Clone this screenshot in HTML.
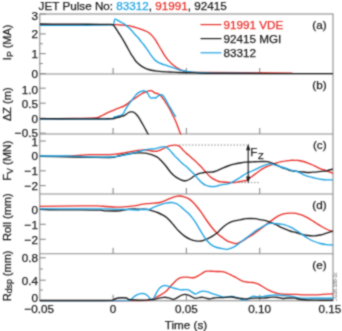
<!DOCTYPE html>
<html><head><meta charset="utf-8"><style>
html,body{margin:0;padding:0;background:#fff;width:342px;height:331px;overflow:hidden}
svg{display:block}
</style></head><body>
<svg width="342" height="331" viewBox="0 0 342 331">
<defs><filter id="soft" x="0" y="0" width="1" height="1" color-interpolation-filters="sRGB"><feConvolveMatrix order="3" kernelMatrix="1 2 1 2 8 2 1 2 1" divisor="20" edgeMode="duplicate"/></filter></defs>
<g filter="url(#soft)">
<rect width="342" height="331" fill="#fff"/>
<g fill="none" stroke="#8c8c8c" stroke-width="1.1">
<rect x="39.8" y="14" width="293.2" height="286.7"/>
<line x1="39.8" y1="74" x2="333.0" y2="74"/>
<line x1="39.8" y1="134" x2="333.0" y2="134"/>
<line x1="39.8" y1="194" x2="333.0" y2="194"/>
<line x1="39.8" y1="253.7" x2="333.0" y2="253.7"/>
</g>
<g stroke="#8c8c8c" stroke-width="1.1">
<line x1="113.10" y1="68" x2="113.10" y2="74"/>
<line x1="186.40" y1="68" x2="186.40" y2="74"/>
<line x1="259.70" y1="68" x2="259.70" y2="74"/>
<line x1="113.10" y1="128" x2="113.10" y2="134"/>
<line x1="186.40" y1="128" x2="186.40" y2="134"/>
<line x1="259.70" y1="128" x2="259.70" y2="134"/>
<line x1="113.10" y1="188" x2="113.10" y2="194"/>
<line x1="186.40" y1="188" x2="186.40" y2="194"/>
<line x1="259.70" y1="188" x2="259.70" y2="194"/>
<line x1="113.10" y1="247.7" x2="113.10" y2="253.7"/>
<line x1="186.40" y1="247.7" x2="186.40" y2="253.7"/>
<line x1="259.70" y1="247.7" x2="259.70" y2="253.7"/>
<line x1="113.10" y1="294.7" x2="113.10" y2="300.7"/>
<line x1="186.40" y1="294.7" x2="186.40" y2="300.7"/>
<line x1="259.70" y1="294.7" x2="259.70" y2="300.7"/>
</g>
<g stroke="#8c8c8c" stroke-width="1.1">
<line x1="39.8" y1="14" x2="45.8" y2="14"/>
<line x1="39.8" y1="33.9" x2="45.8" y2="33.9"/>
<line x1="39.8" y1="53.6" x2="45.8" y2="53.6"/>
<line x1="39.8" y1="73.6" x2="45.8" y2="73.6"/>
<line x1="39.8" y1="43.7" x2="42.8" y2="43.7"/>
<line x1="39.8" y1="63.5" x2="42.8" y2="63.5"/>
<line x1="39.8" y1="88.2" x2="45.8" y2="88.2"/>
<line x1="39.8" y1="103.2" x2="45.8" y2="103.2"/>
<line x1="39.8" y1="118.3" x2="45.8" y2="118.3"/>
<line x1="39.8" y1="133.2" x2="45.8" y2="133.2"/>
<line x1="39.8" y1="141" x2="45.8" y2="141"/>
<line x1="39.8" y1="156" x2="45.8" y2="156"/>
<line x1="39.8" y1="170.8" x2="45.8" y2="170.8"/>
<line x1="39.8" y1="185.6" x2="45.8" y2="185.6"/>
<line x1="39.8" y1="209.4" x2="45.8" y2="209.4"/>
<line x1="39.8" y1="224.3" x2="45.8" y2="224.3"/>
<line x1="39.8" y1="239.3" x2="45.8" y2="239.3"/>
<line x1="39.8" y1="257.8" x2="45.8" y2="257.8"/>
<line x1="39.8" y1="280.2" x2="45.8" y2="280.2"/>
<line x1="39.8" y1="300.5" x2="45.8" y2="300.5"/>
<line x1="39.8" y1="269" x2="42.8" y2="269"/>
<line x1="39.8" y1="290" x2="42.8" y2="290"/>
</g>
<defs>
<clipPath id="ca"><rect x="39.8" y="13.4" width="293.2" height="61.2"/></clipPath>
<clipPath id="cb"><rect x="39.8" y="73.4" width="293.2" height="61.2"/></clipPath>
<clipPath id="cc"><rect x="39.8" y="133.4" width="293.2" height="61.2"/></clipPath>
<clipPath id="cd"><rect x="39.8" y="193.4" width="293.2" height="61.2"/></clipPath>
<clipPath id="ce"><rect x="39.8" y="253.4" width="293.2" height="48.2"/></clipPath>
</defs>
<g clip-path="url(#ca)" fill="none" stroke-width="1.35" stroke-linejoin="round" stroke-linecap="round">
<path d="M40.00,24.60 C46.67,24.60 67.65,24.60 80.00,24.60 C92.35,24.60 107.67,24.57 114.10,24.60 C120.53,24.63 117.10,24.70 118.60,24.80 C120.10,24.90 121.58,25.07 123.10,25.20 C124.62,25.33 126.55,25.50 127.70,25.60 C128.85,25.70 128.87,25.55 130.00,25.80 C131.13,26.05 132.98,26.63 134.50,27.10 C136.02,27.57 137.58,28.08 139.10,28.60 C140.62,29.12 142.10,29.60 143.60,30.20 C145.10,30.80 146.73,31.33 148.10,32.20 C149.47,33.07 150.58,34.12 151.80,35.40 C153.02,36.68 154.35,38.38 155.40,39.90 C156.45,41.42 157.20,42.98 158.10,44.50 C159.00,46.02 159.75,47.22 160.80,49.00 C161.85,50.78 163.22,53.38 164.40,55.20 C165.58,57.02 166.73,58.53 167.90,59.90 C169.07,61.27 170.23,62.33 171.40,63.40 C172.57,64.47 173.73,65.42 174.90,66.30 C176.07,67.18 177.23,68.02 178.40,68.70 C179.57,69.38 180.73,69.97 181.90,70.40 C183.07,70.83 184.03,71.07 185.40,71.30 C186.77,71.53 187.67,71.62 190.10,71.80 C192.53,71.98 183.02,72.18 200.00,72.40 C216.98,72.62 276.67,72.98 292.00,73.10" stroke="#e8302a"/>
<path d="M40.00,25.40 C46.67,25.38 70.00,25.37 80.00,25.30 C90.00,25.23 95.00,25.07 100.00,25.00 C105.00,24.93 107.78,24.95 110.00,24.90 C112.22,24.85 112.53,25.55 113.30,24.70 C114.07,23.85 114.22,20.73 114.60,19.80 C114.98,18.87 115.08,19.00 115.60,19.10 C116.12,19.20 116.90,19.95 117.70,20.40 C118.50,20.85 119.50,21.33 120.40,21.80 C121.30,22.27 122.18,22.60 123.10,23.20 C124.02,23.80 124.98,24.68 125.90,25.40 C126.82,26.12 127.92,26.93 128.60,27.50 C129.28,28.07 129.32,28.08 130.00,28.80 C130.68,29.52 131.80,30.77 132.70,31.80 C133.60,32.83 134.48,34.02 135.40,35.00 C136.32,35.98 137.28,36.65 138.20,37.70 C139.12,38.75 140.00,40.17 140.90,41.30 C141.80,42.43 142.70,43.37 143.60,44.50 C144.50,45.63 145.25,46.58 146.30,48.10 C147.35,49.62 148.62,51.78 149.90,53.60 C151.18,55.42 152.75,57.62 154.00,59.00 C155.25,60.38 156.07,61.07 157.40,61.90 C158.73,62.73 160.45,63.40 162.00,64.00 C163.55,64.60 165.13,64.98 166.70,65.50 C168.27,66.02 169.83,66.57 171.40,67.10 C172.97,67.63 174.55,68.18 176.10,68.70 C177.65,69.22 179.35,69.82 180.70,70.20 C182.05,70.58 182.63,70.73 184.20,71.00 C185.77,71.27 187.47,71.53 190.10,71.80 C192.73,72.07 195.85,72.38 200.00,72.60 C204.15,72.82 205.33,72.98 215.00,73.10 C224.67,73.22 250.83,73.27 258.00,73.30" stroke="#1fa3e2"/>
<path d="M40.00,24.00 C43.33,24.02 53.33,24.07 60.00,24.10 C66.67,24.13 73.33,24.17 80.00,24.20 C86.67,24.23 95.00,24.27 100.00,24.30 C105.00,24.33 107.80,24.32 110.00,24.40 C112.20,24.48 112.37,24.33 113.20,24.80 C114.03,25.27 114.40,26.37 115.00,27.20 C115.60,28.03 116.05,28.63 116.80,29.80 C117.55,30.97 118.55,32.70 119.50,34.20 C120.45,35.70 121.52,37.20 122.50,38.80 C123.48,40.40 124.45,42.10 125.40,43.80 C126.35,45.50 127.28,47.33 128.20,49.00 C129.12,50.67 130.00,52.32 130.90,53.80 C131.80,55.28 132.70,56.57 133.60,57.90 C134.50,59.23 135.17,60.55 136.30,61.80 C137.43,63.05 139.03,64.40 140.40,65.40 C141.77,66.40 143.13,67.12 144.50,67.80 C145.87,68.48 147.23,69.05 148.60,69.50 C149.97,69.95 151.35,70.23 152.70,70.50 C154.05,70.77 155.15,70.92 156.70,71.10 C158.25,71.28 159.78,71.45 162.00,71.60 C164.22,71.75 167.00,71.85 170.00,72.00 C173.00,72.15 175.83,72.35 180.00,72.50 C184.17,72.65 188.33,72.75 195.00,72.90 C201.67,73.05 197.00,73.27 220.00,73.40 C243.00,73.53 314.17,73.65 333.00,73.70" stroke="#1e1e1e"/>
</g>
<g clip-path="url(#cb)" fill="none" stroke-width="1.35" stroke-linejoin="round" stroke-linecap="round">
<path d="M40.00,118.80 C45.83,118.73 65.83,118.57 75.00,118.40 C84.17,118.23 90.98,118.03 95.00,117.80 C99.02,117.57 97.73,117.47 99.10,117.00 C100.47,116.53 101.83,115.68 103.20,115.00 C104.57,114.32 105.93,113.53 107.30,112.90 C108.67,112.27 110.03,111.80 111.40,111.20 C112.77,110.60 114.13,109.87 115.50,109.30 C116.87,108.73 118.23,108.33 119.60,107.80 C120.97,107.27 122.35,106.80 123.70,106.10 C125.05,105.40 126.58,104.42 127.70,103.60 C128.82,102.78 129.48,101.90 130.40,101.20 C131.32,100.50 132.28,100.00 133.20,99.40 C134.12,98.80 135.00,98.20 135.90,97.60 C136.80,97.00 137.70,96.40 138.60,95.80 C139.50,95.20 140.40,94.53 141.30,94.00 C142.20,93.47 143.08,92.98 144.00,92.60 C144.92,92.22 146.03,91.98 146.80,91.70 C147.57,91.42 148.00,91.07 148.60,90.90 C149.20,90.73 149.72,90.63 150.40,90.70 C151.08,90.77 152.02,90.95 152.70,91.30 C153.38,91.65 153.73,92.43 154.50,92.80 C155.27,93.17 156.53,93.27 157.30,93.50 C158.07,93.73 158.50,93.82 159.10,94.20 C159.70,94.58 160.15,94.93 160.90,95.80 C161.65,96.67 162.70,98.12 163.60,99.40 C164.50,100.68 165.48,102.23 166.30,103.50 C167.12,104.77 167.85,105.92 168.50,107.00 C169.15,108.08 169.47,108.58 170.20,110.00 C170.93,111.42 172.00,113.67 172.90,115.50 C173.80,117.33 174.77,119.10 175.60,121.00 C176.43,122.90 177.15,124.95 177.90,126.90 C178.65,128.85 179.58,131.35 180.10,132.70 C180.62,134.05 180.85,134.62 181.00,135.00" stroke="#e8302a"/>
<path d="M40.00,119.00 C46.67,119.00 68.00,119.03 80.00,119.00 C92.00,118.97 106.43,119.05 112.00,118.80 C117.57,118.55 112.82,117.85 113.40,117.50 C113.98,117.15 114.65,116.95 115.50,116.70 C116.35,116.45 117.48,116.28 118.50,116.00 C119.52,115.72 120.73,115.52 121.60,115.00 C122.47,114.48 123.13,113.67 123.70,112.90 C124.27,112.13 124.33,111.58 125.00,110.40 C125.67,109.22 126.80,107.18 127.70,105.80 C128.60,104.42 129.48,103.32 130.40,102.10 C131.32,100.88 132.28,99.70 133.20,98.50 C134.12,97.30 135.00,95.88 135.90,94.90 C136.80,93.92 137.70,93.18 138.60,92.60 C139.50,92.02 140.40,91.70 141.30,91.40 C142.20,91.10 143.17,90.75 144.00,90.80 C144.83,90.85 145.62,91.17 146.30,91.70 C146.98,92.23 147.57,93.17 148.10,94.00 C148.63,94.83 149.05,96.03 149.50,96.70 C149.95,97.37 150.35,97.78 150.80,98.00 C151.25,98.22 151.73,98.07 152.20,98.00 C152.67,97.93 153.07,97.60 153.60,97.60 C154.13,97.60 154.78,98.15 155.40,98.00 C156.02,97.85 156.68,97.15 157.30,96.70 C157.92,96.25 158.50,95.63 159.10,95.30 C159.70,94.97 160.30,94.70 160.90,94.70 C161.50,94.70 162.10,94.82 162.70,95.30 C163.30,95.78 163.90,96.68 164.50,97.60 C165.10,98.52 165.67,99.65 166.30,100.80 C166.93,101.95 167.50,103.10 168.30,104.50 C169.10,105.90 170.18,107.65 171.10,109.20 C172.02,110.75 173.05,112.60 173.80,113.80 C174.55,115.00 175.30,115.97 175.60,116.40" stroke="#1fa3e2"/>
<path d="M40.00,118.70 C46.67,118.72 70.83,118.78 80.00,118.80 C89.17,118.82 90.80,118.80 95.00,118.80 C99.20,118.80 102.30,118.82 105.20,118.80 C108.10,118.78 110.68,118.83 112.40,118.70 C114.12,118.57 114.30,118.28 115.50,118.00 C116.70,117.72 118.42,117.33 119.60,117.00 C120.78,116.67 121.70,116.32 122.60,116.00 C123.50,115.68 124.30,115.48 125.00,115.10 C125.70,114.72 126.20,114.13 126.80,113.70 C127.40,113.27 128.00,112.80 128.60,112.50 C129.20,112.20 129.78,112.00 130.40,111.90 C131.02,111.80 131.68,111.80 132.30,111.90 C132.92,112.00 133.50,112.15 134.10,112.50 C134.70,112.85 135.30,113.42 135.90,114.00 C136.50,114.58 137.10,115.22 137.70,116.00 C138.30,116.78 138.90,117.72 139.50,118.70 C140.10,119.68 140.70,120.85 141.30,121.90 C141.90,122.95 142.50,123.95 143.10,125.00 C143.70,126.05 144.28,127.07 144.90,128.20 C145.52,129.33 146.20,130.70 146.80,131.80 C147.40,132.90 148.22,134.30 148.50,134.80" stroke="#1e1e1e"/>
</g>
<g clip-path="url(#cc)" fill="none" stroke-width="1.35" stroke-linejoin="round" stroke-linecap="round">
<path d="M40.00,156.40 C43.33,156.40 54.73,156.47 60.00,156.40 C65.27,156.33 66.60,156.28 71.60,156.00 C76.60,155.72 83.60,154.93 90.00,154.70 C96.40,154.47 105.50,154.72 110.00,154.60 C114.50,154.48 114.67,154.28 117.00,154.00 C119.33,153.72 121.67,153.28 124.00,152.90 C126.33,152.52 128.65,152.13 131.00,151.70 C133.35,151.27 135.75,150.60 138.10,150.30 C140.45,150.00 143.12,149.83 145.10,149.90 C147.08,149.97 148.50,150.45 150.00,150.70 C151.50,150.95 152.73,151.37 154.10,151.40 C155.47,151.43 156.85,151.27 158.20,150.90 C159.55,150.53 160.85,149.83 162.20,149.20 C163.55,148.57 164.93,147.68 166.30,147.10 C167.67,146.52 169.03,146.02 170.40,145.70 C171.77,145.38 173.37,145.25 174.50,145.20 C175.63,145.15 176.30,145.13 177.20,145.40 C178.10,145.67 178.93,146.05 179.90,146.80 C180.87,147.55 181.98,148.88 183.00,149.90 C184.02,150.92 184.82,151.82 186.00,152.90 C187.18,153.98 188.73,155.22 190.10,156.40 C191.47,157.58 192.85,158.73 194.20,160.00 C195.55,161.27 196.85,162.65 198.20,164.00 C199.55,165.35 200.93,166.62 202.30,168.10 C203.67,169.58 205.03,171.42 206.40,172.90 C207.77,174.38 209.13,175.87 210.50,177.00 C211.87,178.13 213.23,178.95 214.60,179.70 C215.97,180.45 217.42,181.12 218.70,181.50 C219.98,181.88 220.75,181.87 222.30,182.00 C223.85,182.13 226.03,182.20 228.00,182.30 C229.97,182.40 232.08,182.73 234.10,182.60 C236.12,182.47 238.08,181.85 240.10,181.50 C242.12,181.15 244.68,181.00 246.20,180.50 C247.72,180.00 248.20,179.20 249.20,178.50 C250.20,177.80 250.73,177.38 252.20,176.30 C253.67,175.22 256.25,173.27 258.00,172.00 C259.75,170.73 261.13,169.63 262.70,168.70 C264.27,167.77 265.85,167.08 267.40,166.40 C268.95,165.72 270.45,165.18 272.00,164.60 C273.55,164.02 275.13,163.38 276.70,162.90 C278.27,162.42 279.83,162.05 281.40,161.70 C282.97,161.35 284.55,161.03 286.10,160.80 C287.65,160.57 289.05,160.37 290.70,160.30 C292.35,160.23 294.67,160.37 296.00,160.40 C297.33,160.43 297.47,160.32 298.70,160.50 C299.93,160.68 301.85,161.07 303.40,161.50 C304.95,161.93 306.45,162.52 308.00,163.10 C309.55,163.68 311.13,164.30 312.70,165.00 C314.27,165.70 315.83,166.58 317.40,167.30 C318.97,168.02 320.55,168.72 322.10,169.30 C323.65,169.88 324.97,170.15 326.70,170.80 C328.43,171.45 331.53,172.80 332.50,173.20" stroke="#e8302a"/>
<path d="M40.00,156.30 C44.17,156.38 56.67,156.63 65.00,156.80 C73.33,156.97 82.50,157.18 90.00,157.30 C97.50,157.42 105.50,157.65 110.00,157.50 C114.50,157.35 114.67,156.88 117.00,156.40 C119.33,155.92 121.67,155.08 124.00,154.60 C126.33,154.12 128.65,153.78 131.00,153.50 C133.35,153.22 135.75,152.97 138.10,152.90 C140.45,152.83 143.12,152.88 145.10,153.10 C147.08,153.32 148.50,153.78 150.00,154.20 C151.50,154.62 152.73,155.02 154.10,155.60 C155.47,156.18 156.85,156.67 158.20,157.70 C159.55,158.73 160.85,160.33 162.20,161.80 C163.55,163.27 164.93,164.80 166.30,166.50 C167.67,168.20 169.03,170.42 170.40,172.00 C171.77,173.58 173.13,174.88 174.50,176.00 C175.87,177.12 177.23,177.95 178.60,178.70 C179.97,179.45 181.38,180.18 182.70,180.50 C184.02,180.82 185.27,180.85 186.50,180.60 C187.73,180.35 188.82,179.77 190.10,179.00 C191.38,178.23 192.85,176.87 194.20,176.00 C195.55,175.13 196.85,174.32 198.20,173.80 C199.55,173.28 200.93,173.17 202.30,172.90 C203.67,172.63 205.03,172.32 206.40,172.20 C207.77,172.08 209.13,172.32 210.50,172.20 C211.87,172.08 213.23,171.88 214.60,171.50 C215.97,171.12 217.38,170.45 218.70,169.90 C220.02,169.35 220.95,168.85 222.50,168.20 C224.05,167.55 226.07,166.67 228.00,166.00 C229.93,165.33 232.08,164.70 234.10,164.20 C236.12,163.70 238.08,163.33 240.10,163.00 C242.12,162.67 244.18,162.38 246.20,162.20 C248.22,162.02 250.20,162.00 252.20,161.90 C254.20,161.80 256.45,161.67 258.20,161.60 C259.95,161.53 261.17,161.48 262.70,161.50 C264.23,161.52 265.85,161.43 267.40,161.70 C268.95,161.97 270.45,162.52 272.00,163.10 C273.55,163.68 275.13,164.50 276.70,165.20 C278.27,165.90 279.83,166.68 281.40,167.30 C282.97,167.92 284.55,168.35 286.10,168.90 C287.65,169.45 289.30,170.23 290.70,170.60 C292.10,170.97 293.17,170.93 294.50,171.10 C295.83,171.27 297.22,171.45 298.70,171.60 C300.18,171.75 301.85,171.85 303.40,172.00 C304.95,172.15 306.45,172.47 308.00,172.50 C309.55,172.53 311.13,172.32 312.70,172.20 C314.27,172.08 315.83,171.95 317.40,171.80 C318.97,171.65 320.55,171.47 322.10,171.30 C323.65,171.13 324.97,171.15 326.70,170.80 C328.43,170.45 331.53,169.47 332.50,169.20" stroke="#1e1e1e"/>
<path d="M40.00,156.00 C43.67,156.00 56.67,155.98 62.00,156.00 C67.33,156.02 67.33,155.95 72.00,156.10 C76.67,156.25 83.67,156.75 90.00,156.90 C96.33,157.05 105.50,157.08 110.00,157.00 C114.50,156.92 114.67,156.70 117.00,156.40 C119.33,156.10 121.67,155.68 124.00,155.20 C126.33,154.72 128.65,154.08 131.00,153.50 C133.35,152.92 135.75,152.30 138.10,151.70 C140.45,151.10 143.12,150.33 145.10,149.90 C147.08,149.47 148.50,149.28 150.00,149.10 C151.50,148.92 152.73,149.00 154.10,148.80 C155.47,148.60 156.85,148.23 158.20,147.90 C159.55,147.57 161.07,146.98 162.20,146.80 C163.33,146.62 164.08,146.57 165.00,146.80 C165.92,147.03 166.80,147.52 167.70,148.20 C168.60,148.88 169.27,149.67 170.40,150.90 C171.53,152.13 173.13,154.13 174.50,155.60 C175.87,157.07 177.23,158.33 178.60,159.70 C179.97,161.07 181.40,162.65 182.70,163.80 C184.00,164.95 185.17,165.53 186.40,166.60 C187.63,167.67 188.80,168.93 190.10,170.20 C191.40,171.47 192.85,172.73 194.20,174.20 C195.55,175.67 196.85,177.52 198.20,179.00 C199.55,180.48 200.93,182.02 202.30,183.10 C203.67,184.18 205.03,184.93 206.40,185.50 C207.77,186.07 209.13,186.33 210.50,186.50 C211.87,186.67 213.23,186.67 214.60,186.50 C215.97,186.33 217.38,185.82 218.70,185.50 C220.02,185.18 220.95,184.88 222.50,184.60 C224.05,184.32 226.07,184.38 228.00,183.80 C229.93,183.22 232.08,182.15 234.10,181.10 C236.12,180.05 238.08,178.77 240.10,177.50 C242.12,176.23 244.18,174.58 246.20,173.50 C248.22,172.42 250.20,171.88 252.20,171.00 C254.20,170.12 256.45,169.05 258.20,168.20 C259.95,167.35 261.17,166.55 262.70,165.90 C264.23,165.25 266.03,164.65 267.40,164.30 C268.77,163.95 269.55,163.65 270.90,163.80 C272.25,163.95 273.75,164.67 275.50,165.20 C277.25,165.73 279.63,166.45 281.40,167.00 C283.17,167.55 284.55,167.98 286.10,168.50 C287.65,169.02 289.22,169.68 290.70,170.10 C292.18,170.52 293.67,170.65 295.00,171.00 C296.33,171.35 297.30,171.60 298.70,172.20 C300.10,172.80 301.85,173.92 303.40,174.60 C304.95,175.28 306.45,175.82 308.00,176.30 C309.55,176.78 311.13,177.10 312.70,177.50 C314.27,177.90 315.83,178.37 317.40,178.70 C318.97,179.03 320.55,179.32 322.10,179.50 C323.65,179.68 324.97,179.75 326.70,179.80 C328.43,179.85 331.53,179.80 332.50,179.80" stroke="#1fa3e2"/>
</g>
<g clip-path="url(#cd)" fill="none" stroke-width="1.35" stroke-linejoin="round" stroke-linecap="round">
<path d="M40.00,206.40 C46.67,206.32 70.50,205.98 80.00,205.90 C89.50,205.82 92.62,205.80 97.00,205.90 C101.38,206.00 103.22,206.30 106.30,206.50 C109.38,206.70 113.22,207.00 115.50,207.10 C117.78,207.20 117.68,207.23 120.00,207.10 C122.32,206.97 126.28,206.63 129.40,206.30 C132.52,205.97 136.93,205.38 138.70,205.10 C140.47,204.82 138.62,204.83 140.00,204.60 C141.38,204.37 144.67,203.95 147.00,203.70 C149.33,203.45 151.85,203.30 154.00,203.10 C156.15,202.90 157.95,202.95 159.90,202.50 C161.85,202.05 163.75,201.18 165.70,200.40 C167.65,199.62 169.65,198.50 171.60,197.80 C173.55,197.10 176.00,196.50 177.40,196.20 C178.80,195.90 179.00,195.92 180.00,196.00 C181.00,196.08 182.05,196.30 183.40,196.70 C184.75,197.10 186.55,197.53 188.10,198.40 C189.65,199.27 191.15,200.43 192.70,201.90 C194.25,203.37 195.97,205.45 197.40,207.20 C198.83,208.95 199.75,210.18 201.30,212.40 C202.85,214.62 204.90,217.93 206.70,220.50 C208.50,223.07 210.38,225.68 212.10,227.80 C213.82,229.92 215.30,231.58 217.00,233.20 C218.70,234.82 220.62,236.23 222.30,237.50 C223.98,238.77 225.50,239.95 227.10,240.80 C228.70,241.65 230.42,242.13 231.90,242.60 C233.38,243.07 234.52,243.72 236.00,243.60 C237.48,243.48 239.18,242.67 240.80,241.90 C242.42,241.13 244.08,239.98 245.70,239.00 C247.32,238.02 248.90,237.05 250.50,236.00 C252.10,234.95 253.68,233.82 255.30,232.70 C256.92,231.58 258.75,230.37 260.20,229.30 C261.65,228.23 262.87,227.23 264.00,226.30 C265.13,225.37 265.82,224.60 267.00,223.70 C268.18,222.80 269.67,221.92 271.10,220.90 C272.53,219.88 274.10,218.55 275.60,217.60 C277.10,216.65 278.58,215.85 280.10,215.20 C281.62,214.55 283.05,214.03 284.70,213.70 C286.35,213.37 288.12,213.27 290.00,213.20 C291.88,213.13 293.98,212.98 296.00,213.30 C298.02,213.62 300.07,214.30 302.10,215.10 C304.13,215.90 306.18,216.97 308.20,218.10 C310.22,219.23 312.18,220.63 314.20,221.90 C316.22,223.17 318.28,224.52 320.30,225.70 C322.32,226.88 324.27,228.02 326.30,229.00 C328.33,229.98 331.47,231.17 332.50,231.60" stroke="#e8302a"/>
<path d="M40.00,209.40 C43.33,209.48 53.33,209.82 60.00,209.90 C66.67,209.98 73.33,209.85 80.00,209.90 C86.67,209.95 95.67,210.03 100.00,210.20 C104.33,210.37 102.67,210.80 106.00,210.90 C109.33,211.00 116.10,211.08 120.00,210.80 C123.90,210.52 126.28,209.48 129.40,209.20 C132.52,208.92 136.93,209.08 138.70,209.10 C140.47,209.12 138.62,209.27 140.00,209.30 C141.38,209.33 145.05,209.07 147.00,209.30 C148.95,209.53 149.95,210.17 151.70,210.70 C153.45,211.23 155.55,211.72 157.50,212.50 C159.45,213.28 161.83,214.53 163.40,215.40 C164.97,216.27 165.73,216.73 166.90,217.70 C168.07,218.67 169.22,219.90 170.40,221.20 C171.58,222.50 172.57,223.82 174.00,225.50 C175.43,227.18 177.17,229.48 179.00,231.30 C180.83,233.12 183.10,235.07 185.00,236.40 C186.90,237.73 188.58,238.57 190.40,239.30 C192.22,240.03 194.08,240.52 195.90,240.80 C197.72,241.08 199.50,241.27 201.30,241.00 C203.10,240.73 204.90,239.97 206.70,239.20 C208.50,238.43 210.33,237.47 212.10,236.40 C213.87,235.33 215.90,233.95 217.30,232.80 C218.70,231.65 219.27,230.68 220.50,229.50 C221.73,228.32 223.20,226.83 224.70,225.70 C226.20,224.57 227.90,223.50 229.50,222.70 C231.10,221.90 232.42,221.40 234.30,220.90 C236.18,220.40 238.90,220.07 240.80,219.70 C242.70,219.33 244.08,218.90 245.70,218.70 C247.32,218.50 248.90,218.50 250.50,218.50 C252.10,218.50 253.68,218.52 255.30,218.70 C256.92,218.88 258.33,219.23 260.20,219.60 C262.07,219.97 264.68,220.38 266.50,220.90 C268.32,221.42 269.58,222.10 271.10,222.70 C272.62,223.30 274.10,223.82 275.60,224.50 C277.10,225.18 278.58,226.08 280.10,226.80 C281.62,227.52 283.05,228.10 284.70,228.80 C286.35,229.50 288.12,230.38 290.00,231.00 C291.88,231.62 293.98,231.93 296.00,232.50 C298.02,233.07 300.07,233.90 302.10,234.40 C304.13,234.90 306.18,235.27 308.20,235.50 C310.22,235.73 312.18,235.88 314.20,235.80 C316.22,235.72 318.28,235.43 320.30,235.00 C322.32,234.57 324.27,233.83 326.30,233.20 C328.33,232.57 331.47,231.53 332.50,231.20" stroke="#1e1e1e"/>
<path d="M40.00,208.80 C46.67,208.82 69.00,208.88 80.00,208.90 C91.00,208.92 98.50,208.80 106.00,208.90 C113.50,209.00 121.10,209.40 125.00,209.50 C128.90,209.60 127.12,209.42 129.40,209.50 C131.68,209.58 136.93,210.00 138.70,210.00 C140.47,210.00 139.00,209.58 140.00,209.50 C141.00,209.42 143.13,209.53 144.70,209.50 C146.27,209.47 147.85,209.68 149.40,209.30 C150.95,208.92 152.25,207.93 154.00,207.20 C155.75,206.47 157.95,205.58 159.90,204.90 C161.85,204.22 163.75,203.50 165.70,203.10 C167.65,202.70 169.83,202.40 171.60,202.50 C173.37,202.60 174.90,203.12 176.30,203.70 C177.70,204.28 178.82,205.12 180.00,206.00 C181.18,206.88 182.05,207.82 183.40,209.00 C184.75,210.18 186.55,211.55 188.10,213.10 C189.65,214.65 191.30,216.52 192.70,218.30 C194.10,220.08 195.07,221.50 196.50,223.80 C197.93,226.10 199.60,229.37 201.30,232.10 C203.00,234.83 204.90,237.98 206.70,240.20 C208.50,242.42 210.38,244.18 212.10,245.40 C213.82,246.62 215.30,246.95 217.00,247.50 C218.70,248.05 220.62,248.40 222.30,248.70 C223.98,249.00 225.50,249.45 227.10,249.30 C228.70,249.15 230.42,248.42 231.90,247.80 C233.38,247.18 234.52,246.57 236.00,245.60 C237.48,244.63 239.18,243.20 240.80,242.00 C242.42,240.80 244.08,239.60 245.70,238.40 C247.32,237.20 248.90,236.02 250.50,234.80 C252.10,233.58 253.68,232.22 255.30,231.10 C256.92,229.98 258.75,228.98 260.20,228.10 C261.65,227.22 262.87,226.43 264.00,225.80 C265.13,225.17 265.82,224.75 267.00,224.30 C268.18,223.85 269.67,223.22 271.10,223.10 C272.53,222.98 274.10,223.45 275.60,223.60 C277.10,223.75 278.58,223.80 280.10,224.00 C281.62,224.20 283.05,224.32 284.70,224.80 C286.35,225.28 288.12,226.00 290.00,226.90 C291.88,227.80 293.98,228.95 296.00,230.20 C298.02,231.45 300.07,233.02 302.10,234.40 C304.13,235.78 306.18,237.32 308.20,238.50 C310.22,239.68 312.18,240.67 314.20,241.50 C316.22,242.33 318.28,242.98 320.30,243.50 C322.32,244.02 324.27,244.35 326.30,244.60 C328.33,244.85 331.47,244.93 332.50,245.00" stroke="#1fa3e2"/>
</g>
<g clip-path="url(#ce)" fill="none" stroke-width="1.35" stroke-linejoin="round" stroke-linecap="round">
<path d="M40.00,300.90 C53.33,300.90 103.33,300.92 120.00,300.90 C136.67,300.88 135.83,300.85 140.00,300.80 C144.17,300.75 143.38,300.75 145.00,300.60 C146.62,300.45 148.33,300.22 149.70,299.90 C151.07,299.58 152.03,299.18 153.20,298.70 C154.37,298.22 155.53,297.58 156.70,297.00 C157.87,296.42 158.83,295.98 160.20,295.20 C161.57,294.42 163.53,293.37 164.90,292.30 C166.27,291.23 167.23,290.07 168.40,288.80 C169.57,287.53 170.73,285.97 171.90,284.70 C173.07,283.43 174.23,282.27 175.40,281.20 C176.57,280.13 177.73,278.95 178.90,278.30 C180.07,277.65 181.38,277.50 182.40,277.30 C183.42,277.10 184.18,277.13 185.00,277.10 C185.82,277.07 186.32,277.00 187.30,277.10 C188.28,277.20 189.70,277.63 190.90,277.70 C192.10,277.77 193.30,277.80 194.50,277.50 C195.70,277.20 196.88,276.57 198.10,275.90 C199.32,275.23 200.58,274.25 201.80,273.50 C203.02,272.75 204.20,271.80 205.40,271.40 C206.60,271.00 207.60,271.10 209.00,271.10 C210.40,271.10 212.30,271.33 213.80,271.40 C215.30,271.47 216.58,271.45 218.00,271.50 C219.42,271.55 220.78,271.43 222.30,271.70 C223.82,271.97 225.50,272.47 227.10,273.10 C228.70,273.73 230.28,274.68 231.90,275.50 C233.52,276.32 235.38,277.23 236.80,278.00 C238.22,278.77 239.20,279.50 240.40,280.10 C241.60,280.70 242.60,281.23 244.00,281.60 C245.40,281.97 247.47,282.15 248.80,282.30 C250.13,282.45 251.02,282.42 252.00,282.50 C252.98,282.58 253.47,282.45 254.70,282.80 C255.93,283.15 257.85,283.82 259.40,284.60 C260.95,285.38 262.45,286.58 264.00,287.50 C265.55,288.42 267.13,289.32 268.70,290.10 C270.27,290.88 271.83,291.62 273.40,292.20 C274.97,292.78 276.55,293.27 278.10,293.60 C279.65,293.93 280.72,294.07 282.70,294.20 C284.68,294.33 287.77,294.37 290.00,294.40 C292.23,294.43 293.73,294.33 296.10,294.40 C298.47,294.47 301.07,294.73 304.20,294.80 C307.33,294.87 311.77,294.87 314.90,294.80 C318.03,294.73 319.98,294.55 323.00,294.40 C326.02,294.25 331.33,293.98 333.00,293.90" stroke="#e8302a"/>
<path d="M40.00,301.00 C50.00,301.00 85.33,301.07 100.00,301.00 C114.67,300.93 122.83,300.82 128.00,300.60 C133.17,300.38 130.10,300.27 131.00,299.70 C131.90,299.13 132.42,298.00 133.40,297.20 C134.38,296.40 135.73,295.48 136.90,294.90 C138.07,294.32 139.23,293.90 140.40,293.70 C141.57,293.50 142.73,293.40 143.90,293.70 C145.07,294.00 146.47,294.78 147.40,295.50 C148.33,296.22 148.83,297.27 149.50,298.00 C150.17,298.73 150.68,299.87 151.40,299.90 C152.12,299.93 152.92,299.47 153.80,298.20 C154.68,296.93 155.63,294.07 156.70,292.30 C157.77,290.53 159.03,288.72 160.20,287.60 C161.37,286.48 162.53,285.88 163.70,285.60 C164.87,285.32 166.03,285.65 167.20,285.90 C168.37,286.15 169.33,286.67 170.70,287.10 C172.07,287.53 173.83,288.05 175.40,288.50 C176.97,288.95 178.53,289.62 180.10,289.80 C181.67,289.98 183.40,289.60 184.80,289.60 C186.20,289.60 187.28,289.37 188.50,289.80 C189.72,290.23 190.90,291.50 192.10,292.20 C193.30,292.90 194.50,294.00 195.70,294.00 C196.90,294.00 198.08,292.67 199.30,292.20 C200.52,291.73 201.78,291.30 203.00,291.20 C204.22,291.10 205.40,291.33 206.60,291.60 C207.80,291.87 209.00,292.37 210.20,292.80 C211.40,293.23 212.40,293.73 213.80,294.20 C215.20,294.67 217.18,295.13 218.60,295.60 C220.02,296.07 220.88,296.77 222.30,297.00 C223.72,297.23 225.50,297.10 227.10,297.00 C228.70,296.90 230.28,296.30 231.90,296.40 C233.52,296.50 235.18,297.08 236.80,297.60 C238.42,298.12 240.20,299.08 241.60,299.50 C243.00,299.92 244.00,300.30 245.20,300.10 C246.40,299.90 247.58,298.92 248.80,298.30 C250.02,297.68 251.47,296.70 252.50,296.40 C253.53,296.10 253.85,296.40 255.00,296.50 C256.15,296.60 257.90,297.03 259.40,297.00 C260.90,296.97 262.45,296.55 264.00,296.30 C265.55,296.05 267.13,295.70 268.70,295.50 C270.27,295.30 271.83,295.17 273.40,295.10 C274.97,295.03 276.55,295.03 278.10,295.10 C279.65,295.17 281.05,295.38 282.70,295.50 C284.35,295.62 286.22,295.62 288.00,295.80 C289.78,295.98 291.60,296.25 293.40,296.60 C295.20,296.95 296.33,297.63 298.80,297.90 C301.27,298.17 304.40,298.15 308.20,298.20 C312.00,298.25 317.47,298.20 321.60,298.20 C325.73,298.20 331.10,298.20 333.00,298.20" stroke="#1fa3e2"/>
<path d="M40.00,300.50 C46.67,300.50 68.33,300.53 80.00,300.50 C91.67,300.47 104.33,300.50 110.00,300.30 C115.67,300.10 112.63,299.68 114.00,299.30 C115.37,298.92 116.87,298.27 118.20,298.00 C119.53,297.73 120.63,297.70 122.00,297.70 C123.37,297.70 125.23,297.70 126.40,298.00 C127.57,298.30 127.57,299.17 129.00,299.50 C130.43,299.83 132.33,299.88 135.00,300.00 C137.67,300.12 142.55,300.25 145.00,300.20 C147.45,300.15 148.13,299.85 149.70,299.70 C151.27,299.55 152.85,299.55 154.40,299.30 C155.95,299.05 157.45,298.53 159.00,298.20 C160.55,297.87 162.13,297.37 163.70,297.30 C165.27,297.23 166.83,297.47 168.40,297.80 C169.97,298.13 171.93,299.15 173.10,299.30 C174.27,299.45 174.43,299.15 175.40,298.70 C176.37,298.25 177.73,297.23 178.90,296.60 C180.07,295.97 181.42,295.27 182.40,294.90 C183.38,294.53 183.78,294.35 184.80,294.40 C185.82,294.45 187.28,294.77 188.50,295.20 C189.72,295.63 190.90,296.48 192.10,297.00 C193.30,297.52 194.50,298.20 195.70,298.30 C196.90,298.40 198.08,297.77 199.30,297.60 C200.52,297.43 201.78,297.18 203.00,297.30 C204.22,297.42 205.40,298.03 206.60,298.30 C207.80,298.57 209.00,298.95 210.20,298.90 C211.40,298.85 212.58,298.22 213.80,298.00 C215.02,297.78 216.08,297.67 217.50,297.60 C218.92,297.53 220.70,297.65 222.30,297.60 C223.90,297.55 225.50,297.40 227.10,297.30 C228.70,297.20 230.28,296.88 231.90,297.00 C233.52,297.12 235.18,297.75 236.80,298.00 C238.42,298.25 240.00,298.35 241.60,298.50 C243.20,298.65 244.78,298.93 246.40,298.90 C248.02,298.87 249.87,298.43 251.30,298.30 C252.73,298.17 253.65,298.13 255.00,298.10 C256.35,298.07 257.90,298.10 259.40,298.10 C260.90,298.10 262.45,298.20 264.00,298.10 C265.55,298.00 267.13,297.67 268.70,297.50 C270.27,297.33 271.83,297.10 273.40,297.10 C274.97,297.10 276.55,297.27 278.10,297.50 C279.65,297.73 281.05,298.42 282.70,298.50 C284.35,298.58 286.00,298.05 288.00,298.00 C290.00,297.95 292.45,297.95 294.70,298.20 C296.95,298.45 298.13,299.17 301.50,299.50 C304.87,299.83 309.65,300.08 314.90,300.20 C320.15,300.32 329.98,300.20 333.00,300.20" stroke="#1e1e1e"/>
</g>
<g stroke="#888" stroke-width="0.9" stroke-dasharray="1.6,1.6" fill="none">
<line x1="179" y1="145" x2="247" y2="145"/>
<line x1="238" y1="182.6" x2="259" y2="182.6"/>
</g>
<g stroke="#1c1c1c" stroke-width="1.15"><line x1="248.2" y1="147" x2="248.2" y2="181"/></g>
<path d="M248.2,143.4 L246.1,150.3 L250.3,150.3 Z M248.2,183.4 L246.1,176.6 L250.3,176.6 Z" fill="#1c1c1c"/>
<text x="250.3" y="155.9" font-family='"Liberation Sans", sans-serif' font-size="11.7" fill="#1c1c1c" stroke="#1c1c1c" stroke-width="0.25">F<tspan x="257.9" font-size="9.2" dy="3.4">Z</tspan></text>
<g font-family='"Liberation Sans", sans-serif' font-size="11.7" fill="#1c1c1c" stroke="#1c1c1c" stroke-width="0.25" text-anchor="end">
<text x="37.9" y="20.10">3</text>
<text x="37.9" y="38.00">2</text>
<text x="37.9" y="57.70">1</text>
<text x="37.9" y="77.70">0</text>
<text x="37.9" y="93.50">1.0</text>
<text x="37.9" y="108.30">0.5</text>
<text x="37.9" y="123.00">0</text>
<text x="37.9" y="137.10">−0.5</text>
<text x="37.9" y="146.30">1</text>
<text x="37.9" y="160.40">0</text>
<text x="37.9" y="175.30">−1</text>
<text x="37.9" y="190.00">−2</text>
<text x="37.9" y="214.00">0</text>
<text x="37.9" y="229.30">−1</text>
<text x="37.9" y="244.30">−2</text>
<text x="37.9" y="261.90">0.8</text>
<text x="37.9" y="285.20">0.4</text>
<text x="37.9" y="302.00">0</text>
</g>
<g font-family='"Liberation Sans", sans-serif' font-size="11.7" fill="#1c1c1c" stroke="#1c1c1c" stroke-width="0.25" text-anchor="middle">
<text x="39.30" y="313">−0.05</text>
<text x="113.10" y="313">0</text>
<text x="186.40" y="313">0.05</text>
<text x="259.70" y="313">0.10</text>
<text x="329.90" y="313">0.15</text>
<text x="186" y="328.5">Time (s)</text>
</g>
<text x="38.6" y="9.6" font-family='"Liberation Sans", sans-serif' font-size="11.7" fill="#1c1c1c" stroke="#1c1c1c" stroke-width="0.25">JET Pulse No: <tspan fill="#1fa3e2" stroke="#1fa3e2">83312</tspan>, <tspan fill="#e8302a" stroke="#e8302a">91991</tspan>, 92415</text>
<g font-family='"Liberation Sans", sans-serif' font-size="11.7" fill="#1c1c1c" stroke="#1c1c1c" stroke-width="0.25" text-anchor="end">
<text x="326.6" y="29.10">(a)</text>
<text x="326.6" y="89.10">(b)</text>
<text x="326.6" y="149.10">(c)</text>
<text x="326.6" y="209.10">(d)</text>
<text x="326.6" y="268.80">(e)</text>
</g>
<line x1="200.5" y1="24.6" x2="221.5" y2="24.6" stroke="#e8302a" stroke-width="1.2"/>
<text x="223.5" y="28.70" font-family='"Liberation Sans", sans-serif' font-size="11.7" fill="#e8302a" stroke="#e8302a" stroke-width="0.25">91991 VDE</text>
<line x1="200.5" y1="38.6" x2="221.5" y2="38.6" stroke="#1e1e1e" stroke-width="1.2"/>
<text x="223.5" y="42.70" font-family='"Liberation Sans", sans-serif' font-size="11.7" fill="#1c1c1c" stroke="#1c1c1c" stroke-width="0.25">92415 MGI</text>
<line x1="200.5" y1="52.8" x2="221.5" y2="52.8" stroke="#1fa3e2" stroke-width="1.2"/>
<text x="223.5" y="56.90" font-family='"Liberation Sans", sans-serif' font-size="11.7" fill="#1c1c1c" stroke="#1c1c1c" stroke-width="0.25">83312</text>
<g font-family='"Liberation Sans", sans-serif' font-size="11" fill="#1c1c1c" stroke="#1c1c1c" stroke-width="0.25" text-anchor="middle">
<text transform="translate(10.5 42.3) rotate(-90)">I<tspan font-size="8.6" dy="2.2">P</tspan><tspan dy="-2.2"> (MA)</tspan></text>
<text transform="translate(10.5 104.2) rotate(-90)">ΔZ (m)</text>
<text transform="translate(10.5 160.6) rotate(-90)">F<tspan font-size="8.8" dy="2.2">V</tspan><tspan dy="-2.2"> (MN)</tspan></text>
<text transform="translate(10.5 217.2) rotate(-90)">Roll (mm)</text>
<text transform="translate(10.5 275.9) rotate(-90)">R<tspan font-size="8.8" dy="1.6">dsp</tspan><tspan dy="-1.6"> (mm)</tspan></text>
</g>
<text transform="translate(337.2 300.8) rotate(-90)" font-family='"Liberation Sans", sans-serif' font-size="4.8" fill="#666" textLength="28.5" lengthAdjust="spacingAndGlyphs">JG16.188-1c</text>
</g>
</svg>
</body></html>
